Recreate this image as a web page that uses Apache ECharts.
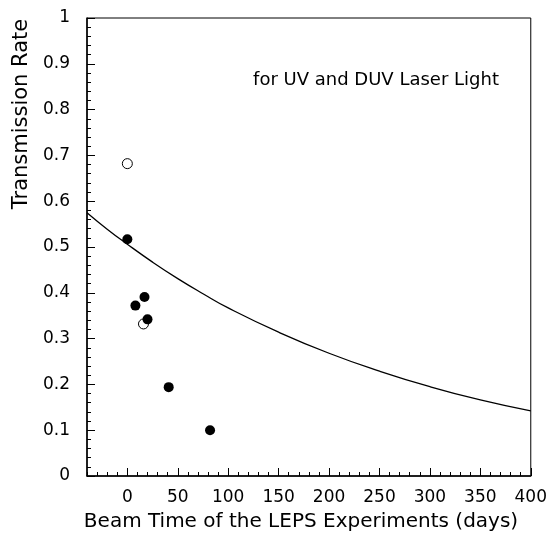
<!DOCTYPE html>
<html>
<head>
<meta charset="UTF-8">
<title>Transmission Rate</title>
<script src="https://cdn.jsdelivr.net/npm/echarts@6/dist/echarts.min.js"></script>
<style>
  body{margin:0;background:#fff}
  #chart{width:550px;height:541px}
</style>
</head>
<body>
<div id="chart"></div>
<script>
const filledDays = [0, 8, 17, 20, 41, 82];
const filledRate = [0.517, 0.372, 0.391, 0.342, 0.194, 0.100];
const openDays = [0, 16];
const openRate = [0.682, 0.332];
// fitted curve, read at a few days
const fitDays = [-40, -20, 0, 25, 50, 75, 100, 150, 200, 250, 300, 350, 400];
const fitRate = [0.575, 0.539, 0.506, 0.467, 0.431, 0.398, 0.367, 0.314, 0.268, 0.229, 0.195, 0.166, 0.142];
const xMajor = [0, 50, 100, 150, 200, 250, 300, 350, 400];

const font = 'DejaVu Sans';
const pairs = (xs, ys) => xs.map((x, i) => [x, ys[i]]);

const chart = echarts.init(document.getElementById('chart'));
chart.setOption({
  animation: false,
  grid: {left: 87, top: 18, right: 19, bottom: 65, show: true, borderColor: '#000', borderWidth: 1},
  xAxis: [{
    type: 'value', min: -40, max: 400, interval: 10,
    axisLine: {onZero: false, lineStyle: {color: '#000', width: 1.5}},
    axisTick: {inside: true, length: 4, lineStyle: {color: '#000'}},
    axisLabel: {customValues: xMajor, color: '#000', fontFamily: font, fontSize: 17, margin: 13},
    splitLine: {show: false}
  }, {
    type: 'value', min: -40, max: 400, position: 'bottom',
    axisLine: {show: false, onZero: false},
    axisTick: {inside: true, length: 8, customValues: xMajor, lineStyle: {color: '#000'}},
    axisLabel: {show: false},
    splitLine: {show: false}
  }],
  yAxis: {
    type: 'value', min: 0, max: 1, interval: 0.1,
    axisLine: {show: true, onZero: false, lineStyle: {color: '#000', width: 1.5}},
    axisTick: {inside: true, length: 8, lineStyle: {color: '#000'}},
    minorTick: {show: true, splitNumber: 5, length: 4, lineStyle: {color: '#000'}},
    axisLabel: {color: '#000', fontFamily: font, fontSize: 17, margin: 17},
    splitLine: {show: false}
  },
  graphic: [{
    type: 'text', x: 22, y: 114, rotation: Math.PI / 2,
    style: {text: 'Transmission Rate', fill: '#000', font: '21px "DejaVu Sans"', textAlign: 'center', textVerticalAlign: 'middle'}
  }, {
    type: 'text', x: 301, y: 522,
    style: {text: 'Beam Time of the LEPS Experiments (days)', fill: '#000', font: '20px "DejaVu Sans"', textAlign: 'center', textVerticalAlign: 'middle'}
  }, {
    type: 'text', x: 376, y: 80,
    style: {text: 'for UV and DUV Laser Light', fill: '#000', font: '18px "DejaVu Sans"', textAlign: 'center', textVerticalAlign: 'middle'}
  }],
  series: [{
    type: 'line', data: pairs(fitDays, fitRate), smooth: true, showSymbol: false,
    lineStyle: {color: '#000', width: 1.3}, z: 1
  }, {
    type: 'scatter', data: pairs(openDays, openRate), symbolSize: 10,
    itemStyle: {color: '#fff', borderColor: '#000', borderWidth: 1, opacity: 1}, z: 2
  }, {
    type: 'scatter', data: pairs(filledDays, filledRate), symbolSize: 10,
    itemStyle: {color: '#000', opacity: 1}, z: 3
  }]
});
</script>
</body>
</html>
